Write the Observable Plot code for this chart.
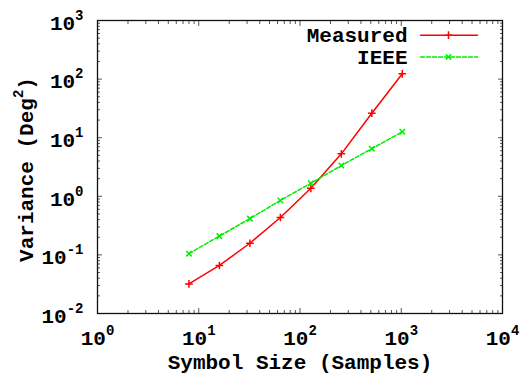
<!DOCTYPE html>
<html>
<head>
<meta charset="utf-8">
<script src="https://cdn.jsdelivr.net/npm/d3@7"></script>
<script src="https://cdn.jsdelivr.net/npm/@observablehq/plot@0.6"></script>
<style>
  html, body { margin: 0; padding: 0; background: #fff; }
  #chart { width: 522px; height: 376px; overflow: hidden; }
  #chart svg text { font-family: "Liberation Mono", "DejaVu Sans Mono", "Courier New", monospace !important; font-weight: bold; }
</style>
</head>
<body>
<div id="chart"></div>
<script>
// ---- data ----
const symbolSizes = [8, 16, 32, 64, 128, 256, 512, 1024];
const measured    = [0.032, 0.066, 0.158, 0.435, 1.37, 5.3, 26.2, 123];
const ieee        = [0.105, 0.209, 0.416, 0.85, 1.67, 3.35, 6.5, 12.6];
const seriesNames = ["Measured", "IEEE"];

const xMajor = [1, 10, 100, 1000, 10000];
const xTickLabels = ["10^0", "10^1", "10^2", "10^3", "10^4"];
const yMajor = [0.01, 0.1, 1, 10, 100, 1000];
const yTickLabels = ["10^-2", "10^-1", "10^0", "10^1", "10^2", "10^3"];
const xLabel = "Symbol Size (Samples)";
const yLabel = "Variance (Deg^2)";

// minor ticks 2..9 per decade
const minorOf = (lo, hi) => {
  const out = [];
  for (let k = lo; k < hi; k++) for (let m = 2; m <= 9; m++) out.push(m * Math.pow(10, k));
  return out;
};
const xMinor = minorOf(0, 4);
const yMinor = minorOf(-2, 3);

const rows = symbolSizes.map((s, i) => ({size: s, measured: measured[i], ieee: ieee[i]}));

const RED = "#ff0000", GREEN = "#00ee00", TICK = "#555";
const FONT = "Liberation Mono";
const lineShape = {draw(ctx, l) { ctx.moveTo(0, 0); ctx.lineTo(0, -l); }};
const R = 2.6;

const chart = Plot.plot({
  width: 522,
  height: 376,
  marginLeft: 97,
  marginRight: 20,
  marginTop: 20,
  marginBottom: 63,
  x: {type: "log", domain: [1, 1e4]},
  y: {type: "log", domain: [1e-2, 1e3]},
  style: {fontFamily: FONT, fontSize: "21px", fontWeight: "bold", background: "white", color: "black"},
  marks: [
    // inward ticks on all four sides
    Plot.axisX(xMajor, {anchor: "bottom", tickSize: -5, tickFormat: () => "", stroke: TICK, label: null}),
    Plot.axisX(xMajor, {anchor: "top", tickSize: -5, tickFormat: () => "", stroke: TICK, label: null}),
    Plot.axisX(xMinor, {anchor: "bottom", tickSize: -3, tickFormat: () => "", stroke: TICK, label: null}),
    Plot.axisX(xMinor, {anchor: "top", tickSize: -3, tickFormat: () => "", stroke: TICK, label: null}),
    Plot.axisY(yMajor, {anchor: "left", tickSize: -5, tickFormat: () => "", stroke: TICK, label: null}),
    Plot.axisY(yMajor, {anchor: "right", tickSize: -5, tickFormat: () => "", stroke: TICK, label: null}),
    Plot.axisY(yMinor, {anchor: "left", tickSize: -3, tickFormat: () => "", stroke: TICK, label: null}),
    Plot.axisY(yMinor, {anchor: "right", tickSize: -3, tickFormat: () => "", stroke: TICK, label: null}),
    // tick labels
    Plot.axisX(xMajor, {anchor: "bottom", tickSize: 0, tickPadding: 17, fontFamily: FONT, tickFormat: d => xTickLabels[xMajor.indexOf(d)], label: null}),
    Plot.axisY(yMajor, {anchor: "left", tickSize: 0, tickPadding: 14, dy: 2.5, fontFamily: FONT, tickFormat: d => yTickLabels[yMajor.indexOf(d)], label: null}),
    // axis titles
    Plot.text([xLabel], {frameAnchor: "bottom", dy: 49, text: d => d, textAnchor: "middle", lineAnchor: "middle", fontFamily: FONT}),
    Plot.text([yLabel], {frameAnchor: "left", dx: -71, dy: 2.5, rotate: -90, text: d => d, textAnchor: "middle", lineAnchor: "middle", fontFamily: FONT}),
    // data
    Plot.line(rows, {x: "size", y: "measured", stroke: RED, strokeWidth: 1.5}),
    Plot.dot(rows, {x: "size", y: "measured", symbol: "plus", r: R, stroke: RED, strokeWidth: 1.5}),
    Plot.line(rows, {x: "size", y: "ieee", stroke: GREEN, strokeWidth: 1.5, strokeDasharray: "4,2"}),
    Plot.dot(rows, {x: "size", y: "ieee", symbol: "times", r: R, stroke: GREEN, strokeWidth: 1.5}),
    // legend
    Plot.text([seriesNames[0]], {frameAnchor: "top-right", dx: -95, dy: 14.7, text: d => d, textAnchor: "end", lineAnchor: "middle", fontFamily: FONT}),
    Plot.vector([seriesNames[0]], {frameAnchor: "top-right", dx: -82, dy: 14.7, length: 57, rotate: 90, anchor: "start", shape: lineShape, stroke: RED, strokeWidth: 1.5}),
    Plot.dot([seriesNames[0]], {frameAnchor: "top-right", dx: -54, dy: 14.7, symbol: "plus", r: R, stroke: RED, strokeWidth: 1.5}),
    Plot.text([seriesNames[1]], {frameAnchor: "top-right", dx: -95, dy: 36.4, text: d => d, textAnchor: "end", lineAnchor: "middle", fontFamily: FONT}),
    Plot.vector([seriesNames[1]], {frameAnchor: "top-right", dx: -82, dy: 36.4, length: 57, rotate: 90, anchor: "start", shape: lineShape, stroke: GREEN, strokeWidth: 1.5, strokeDasharray: "4,2"}),
    Plot.dot([seriesNames[1]], {frameAnchor: "top-right", dx: -54, dy: 36.4, symbol: "times", r: R, stroke: GREEN, strokeWidth: 1.5}),
    Plot.frame({stroke: "#111", strokeWidth: 1.3})
  ]
});

// turn "a^b" into real superscript tspans
function supify(svg) {
  d3.select(svg).selectAll("text").each(function () {
    const s = this.textContent;
    if (!s || s.indexOf("^") < 0) return;
    const t = d3.select(this);
    t.text(null);
    const re = /\^(-?\w)/g;
    let last = 0, m, raised = false;
    while ((m = re.exec(s)) !== null) {
      if (m.index > last) {
        const sp = t.append("tspan").text(s.slice(last, m.index));
        if (raised) { sp.attr("dy", 10); raised = false; }
      }
      t.append("tspan").attr("dy", -10).attr("font-size", 14).text(m[1]);
      raised = true;
      last = m.index + m[0].length;
    }
    if (last < s.length) {
      const sp = t.append("tspan").text(s.slice(last));
      if (raised) sp.attr("dy", 10);
    }
  });
}
supify(chart);
document.getElementById("chart").appendChild(chart);
</script>
</body>
</html>
